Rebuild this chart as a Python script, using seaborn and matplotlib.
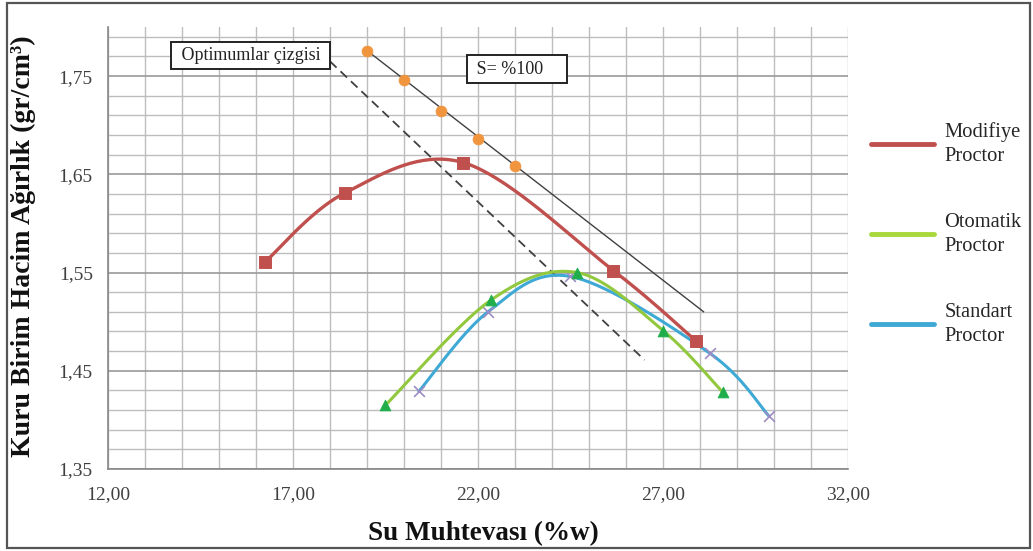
import numpy as np
import pandas as pd
import matplotlib
matplotlib.use("Agg")
import matplotlib.pyplot as plt
import seaborn as sns
from matplotlib.patches import Rectangle
from matplotlib.lines import Line2D

# ---------------- data ----------------
mod_x = [16.25, 18.40, 21.60, 25.66, 27.90]
mod_y = [1.561, 1.631, 1.662, 1.552, 1.480]
oto_x = [19.50, 22.35, 24.68, 27.00, 28.62]
oto_y = [1.415, 1.522, 1.550, 1.491, 1.428]
std_x = [20.40, 22.27, 24.50, 28.26, 29.86]
std_y = [1.429, 1.510, 1.546, 1.468, 1.404]
sat_x = [19.0, 20.0, 21.0, 22.0, 23.0]
sat_y = [1.776, 1.746, 1.714, 1.686, 1.658]
sat_line_x = [19.0, 28.1]
sat_line_y = [1.776, 1.510]
opt_x = [18.0, 26.5]
opt_y = [1.765, 1.461]
xtick_vals = [12, 17, 22, 27, 32]
xtick_labels = ["12,00", "17,00", "22,00", "27,00", "32,00"]
ytick_vals = [1.35, 1.45, 1.55, 1.65, 1.75]
ytick_labels = ["1,35", "1,45", "1,55", "1,65", "1,75"]
legend_labels = ["Modifiye\nProctor", "Otomatik\nProctor", "Standart\nProctor"]


def smooth(x, y, n=40):
    """Excel-like smoothed line (Catmull-Rom Bezier) through the points."""
    P = np.column_stack([x, y]).astype(float)
    m = len(P)
    out = []
    for i in range(m - 1):
        p0 = P[i - 1] if i > 0 else P[i]
        p1 = P[i]
        p2 = P[i + 1]
        p3 = P[i + 2] if i + 2 < m else P[i + 1]
        c1 = p1 + (p2 - p0) / 6.0
        c2 = p2 - (p3 - p1) / 6.0
        t = np.linspace(0, 1, n)[:, None]
        seg = ((1 - t) ** 3) * p1 + 3 * ((1 - t) ** 2) * t * c1 + 3 * (1 - t) * t ** 2 * c2 + t ** 3 * p2
        if i > 0:
            seg = seg[1:]
        out.append(seg)
    out = np.vstack(out)
    return pd.DataFrame({"x": out[:, 0], "y": out[:, 1]})


sns.set_theme(style="white")
plt.rcParams["font.family"] = ["Liberation Serif", "DejaVu Serif"]

fig = plt.figure(figsize=(10.33, 5.51), dpi=100)
ax = fig.add_axes([108 / 1033, 1 - 469 / 551, 740 / 1033, 442 / 551])

C_RED = "#C0504D"
C_GREEN = "#92C83E"
C_GREEN_M = "#1FAE4B"
C_BLUE = "#3FA9D5"
C_X = "#9D8BC4"
C_ORANGE = "#F0953E"

# lines
sns.lineplot(data=pd.DataFrame({"x": opt_x, "y": opt_y}), x="x", y="y", ax=ax,
             color="#404040", lw=1.3, dashes=False, linestyle=(0, (5, 3)), zorder=3)
sns.lineplot(data=pd.DataFrame({"x": sat_line_x, "y": sat_line_y}), x="x", y="y", ax=ax,
             color="#404040", lw=1.0, zorder=3)
sns.lineplot(data=smooth(mod_x, mod_y), x="x", y="y", ax=ax, sort=False, estimator=None,
             color=C_RED, lw=2.4, zorder=4)
sns.lineplot(data=smooth(std_x, std_y), x="x", y="y", ax=ax, sort=False, estimator=None,
             color=C_BLUE, lw=2.2, zorder=4)
sns.lineplot(data=smooth(oto_x, oto_y), x="x", y="y", ax=ax, sort=False, estimator=None,
             color=C_GREEN, lw=2.2, zorder=5)

# markers
sns.scatterplot(x=sat_x, y=sat_y, ax=ax, marker="o", s=60, color=C_ORANGE, edgecolor=C_ORANGE, zorder=6)
sns.scatterplot(x=mod_x, y=mod_y, ax=ax, marker="s", s=75, color=C_RED, edgecolor=C_RED, zorder=6)
sns.scatterplot(x=std_x, y=std_y, ax=ax, marker="x", s=60, color=C_X, linewidth=1.2, zorder=4.5)
sns.scatterplot(x=oto_x, y=oto_y, ax=ax, marker="^", s=60, color=C_GREEN_M, edgecolor=C_GREEN_M, zorder=6)

# axes
ax.set_xlim(12, 32)
ax.set_ylim(1.35, 1.80)
ax.set_xticks(xtick_vals)
ax.set_xticklabels(xtick_labels)
ax.set_yticks(ytick_vals)
ax.set_yticklabels(ytick_labels)
ax.set_xticks(np.arange(12, 32.01, 1.0), minor=True)
ax.set_yticks(np.arange(1.35, 1.8001, 0.02), minor=True)
ax.grid(True, which="both", color="#BDBDBD", lw=1.0)
ax.grid(True, which="major", axis="y", color="#9A9A9A", lw=1.2)
ax.tick_params(which="minor", length=0)
ax.tick_params(which="major", length=6, width=1, color="#888888", direction="out",
               labelsize=14, labelcolor="#404040", pad=6)
ax.tick_params(axis="y", which="major", pad=5)
for s in ["top", "right"]:
    ax.spines[s].set_visible(False)
for s in ["left", "bottom"]:
    ax.spines[s].set_color("#888888")
    ax.spines[s].set_linewidth(1.2)

ax.set_xlabel("Su Muhtevası (%w)", fontsize=19.5, fontweight="bold", color="#111111")
ax.set_ylabel("Kuru Birim Hacim Ağırlık (gr/cm³)", fontsize=20, fontweight="bold", color="#111111")
ax.xaxis.set_label_coords(0.507, -0.118)
ax.yaxis.set_label_coords(-0.097, 0.505)

# annotation boxes
ax.text(15.86, 1.771, " Optimumlar çizgisi ", ha="center", va="center", fontsize=13, color="#222222",
        bbox=dict(boxstyle="square,pad=0.3", fc="white", ec="#222222", lw=1.4), zorder=7)
ax.text(23.05, 1.757, " S= %100    ", ha="center", va="center", fontsize=13, color="#222222",
        bbox=dict(boxstyle="square,pad=0.3", fc="white", ec="#222222", lw=1.4), zorder=7)

# legend
handles = [Line2D([], [], color=C_RED, lw=3.5),
           Line2D([], [], color="#A8D83C", lw=3.5),
           Line2D([], [], color=C_BLUE, lw=3.5)]
leg = fig.legend(handles, legend_labels, loc="center left", bbox_to_anchor=(852 / 1033, 1 - 234 / 551),
                 frameon=False, fontsize=14.8, handlelength=3.1, handletextpad=0.5, labelspacing=2.3)
for t in leg.get_texts():
    t.set_linespacing(1.35)

# outer border
fig.patches.append(Rectangle((7 / 1033, 3 / 551), 1023 / 1033, 545 / 551, transform=fig.transFigure,
                             fill=False, ec="#555555", lw=1.6))

fig.savefig("out.png", dpi=100)
